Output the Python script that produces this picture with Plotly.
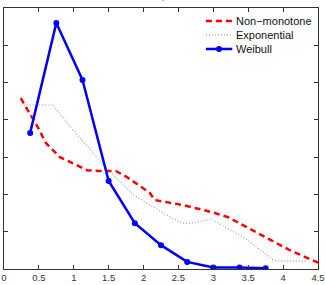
import plotly.graph_objects as go

# Non-monotone hazard estimate (red dashed)
nm_x = [0.24, 0.5, 0.6, 0.8, 0.98, 1.19, 1.35, 1.6, 1.75, 1.86, 2.09, 2.16, 2.33, 2.55, 2.97, 3.21, 3.63, 4.09, 4.5]
nm_y = [4.58, 3.75, 3.38, 3.0, 2.84, 2.65, 2.63, 2.63, 2.48, 2.33, 2.04, 1.85, 1.80, 1.72, 1.53, 1.39, 0.97, 0.51, 0.17]

# Exponential (grey dotted)
ex_x = [0.24, 0.70, 0.93, 1.26, 1.40, 1.86, 2.33, 2.55, 2.69, 2.97, 3.25, 3.49, 3.86, 3.95, 4.33]
ex_y = [4.40, 4.40, 3.86, 3.14, 2.84, 1.98, 1.45, 1.23, 1.23, 1.34, 1.05, 0.78, 0.24, 0.21, 0.21]

# Weibull (blue with markers)
wb_x = [0.375, 0.75, 1.125, 1.5, 1.875, 2.25, 2.625, 3.0, 3.375, 3.75]
wb_y = [3.65, 6.6, 5.07, 2.36, 1.23, 0.64, 0.19, 0.04, 0.04, 0.02]

x_ticks = [0, 0.5, 1, 1.5, 2, 2.5, 3, 3.5, 4, 4.5]
x_tick_labels = ["0", "0.5", "1", "1.5", "2", "2.5", "3", "3.5", "4", "4.5"]

series_names = ["Non\u2212monotone", "Exponential", "Weibull"]
colors = ["#ff0000", "#999999", "#0000ff"]

fig = go.Figure()
fig.add_trace(go.Scatter(x=nm_x, y=nm_y, mode="lines", name=series_names[0],
                         line=dict(color=colors[0], width=2.5, dash="6px,4px")))
fig.add_trace(go.Scatter(x=ex_x, y=ex_y, mode="lines", name=series_names[1],
                         line=dict(color=colors[1], width=1.1, dash="1px,2px")))
fig.add_trace(go.Scatter(x=wb_x, y=wb_y, mode="lines+markers", name=series_names[2],
                         line=dict(color=colors[2], width=2.5),
                         marker=dict(color=colors[2], size=6, symbol="circle")))

fig.update_layout(
    width=326, height=285,
    margin=dict(l=1, r=3, t=8, b=16),
    paper_bgcolor="white", plot_bgcolor="white",
    font=dict(family="Liberation Sans, Arial, sans-serif", color="#222222"),
    showlegend=False,
    xaxis=dict(range=[0, 4.5], tickvals=x_ticks, ticktext=x_tick_labels,
               ticks="inside", ticklen=4, tickcolor="#333333",
               showline=True, linecolor="#333333", linewidth=1, mirror="ticks",
               showgrid=False, zeroline=False, ticklabeloverflow="allow",
               tickfont=dict(size=9.5, color="#333333")),
    yaxis=dict(range=[0, 7], dtick=1, ticks="inside", ticklen=4, tickcolor="#333333",
               showline=True, linecolor="#333333", linewidth=1, mirror="ticks",
               showgrid=False, zeroline=False, showticklabels=False),
)

# manual legend (compact, MATLAB style)
leg_y = [0.950, 0.897, 0.843]
leg_dash = ["6px,4px", "1px,2px", "solid"]
leg_width = [2.5, 1.1, 2.5]
for name, col, yy, dsh, w in zip(series_names, colors, leg_y, leg_dash, leg_width):
    fig.add_shape(type="line", xref="paper", yref="paper", x0=0.643, x1=0.727, y0=yy, y1=yy,
                  line=dict(color=col, width=w, dash=dsh))
    fig.add_annotation(text=name, xref="paper", yref="paper", x=0.733, y=yy,
                       xanchor="left", yanchor="middle", showarrow=False,
                       font=dict(size=11, color="#111111"))
fig.add_shape(type="circle", xref="paper", yref="paper", xsizemode="pixel", ysizemode="pixel",
              xanchor=0.685, yanchor=leg_y[2], x0=-3, x1=3, y0=-3, y1=3,
              fillcolor=colors[2], line=dict(color=colors[2], width=0))

fig.add_annotation(text="n = 2, \u03b1<sub>p</sub> = 1", xref="paper", yref="paper",
                   x=0.48, y=1, yanchor="bottom", yshift=5, showarrow=False,
                   font=dict(size=11, color="#333333"))
fig.add_annotation(text="Time, t", xref="paper", yref="paper",
                   x=0.48, y=0, yanchor="top", yshift=-13, showarrow=False,
                   font=dict(size=11, color="#333333"))

fig.write_html("out.html")
